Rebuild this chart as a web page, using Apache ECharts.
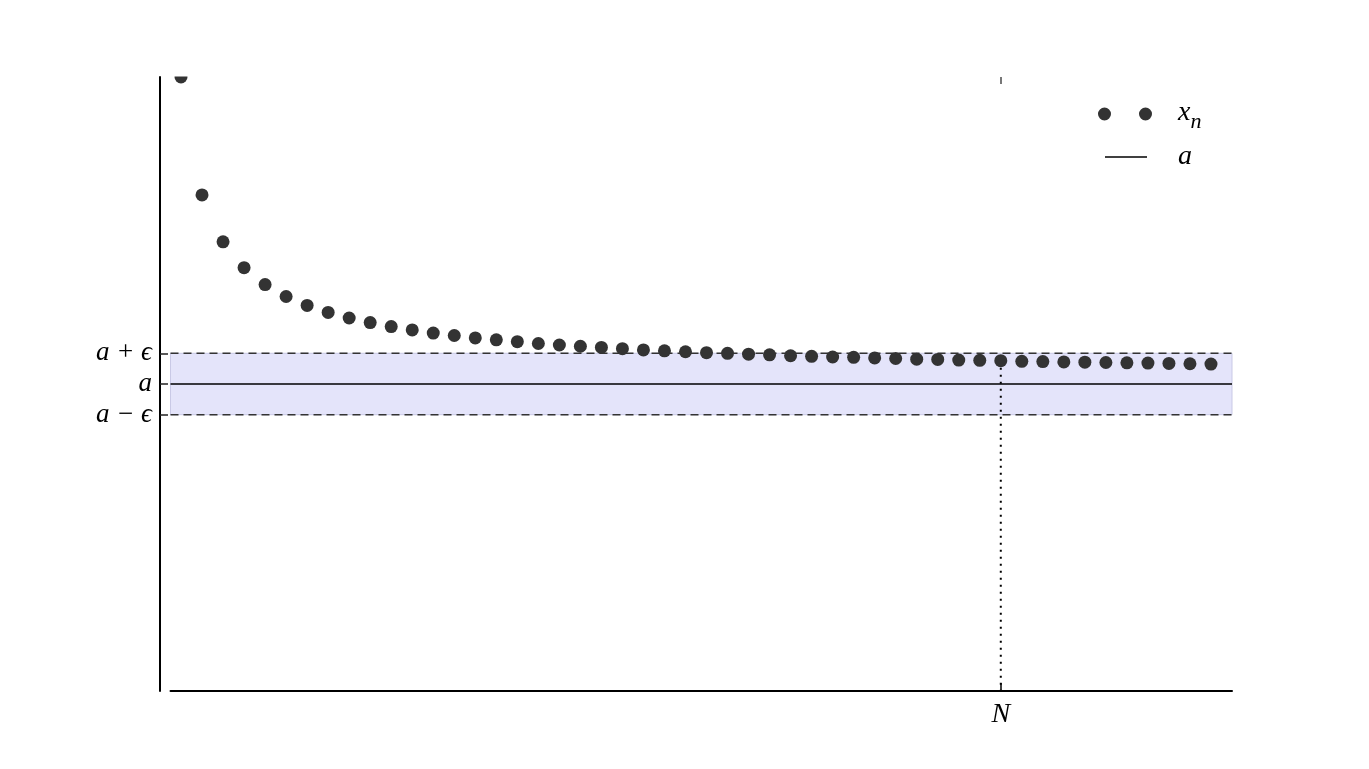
<!DOCTYPE html>
<html><head><meta charset="utf-8">
<script src="https://cdn.jsdelivr.net/npm/echarts@6/dist/echarts.min.js"></script>
<style>html,body{margin:0;padding:0;background:#fff}#c{width:1369px;height:769px}</style>
</head><body><div id="c"></div>
<script>
// ---- data ----
const nValues = [1,2,3,4,5,6,7,8,9,10,11,12,13,14,15,16,17,18,19,20,21,22,23,24,25,26,27,28,29,30,31,32,33,34,35,36,37,38,39,40,41,42,43,44,45,46,47,48,49,50];
const xnValues = [2.000,1.616,1.463,1.379,1.324,1.285,1.256,1.233,1.215,1.200,1.187,1.176,1.166,1.158,1.150,1.144,1.138,1.132,1.127,1.123,1.119,1.115,1.111,1.108,1.105,1.102,1.100,1.097,1.095,1.092,1.090,1.088,1.087,1.085,1.083,1.081,1.080,1.078,1.077,1.076,1.074,1.073,1.072,1.071,1.070,1.069,1.068,1.067,1.066,1.065];
const aValue = 1.0;
const epsValue = 0.1;
const nIndex = 40;
const xRange = [0.5, 51];
const yRange = [0, 2];
const yTickValues = [aValue - epsValue, aValue, aValue + epsValue];
const yTickLabels = ['a − ϵ', 'a', 'a + ϵ'];
const xTickValues = [nIndex];
const xTickLabels = ['N'];
const seriesNames = ['x_n', 'a'];

// ---- chart ----
const FONT = '"Liberation Serif","DejaVu Serif",serif';
const chart = echarts.init(document.getElementById('c'), null, {renderer: 'canvas'});
const scatterData = nValues.map((n, i) => [n, xnValues[i]]);
const xAtN = xnValues[nValues.indexOf(nIndex)];

const option = {
  animation: false,
  backgroundColor: '#fff',
  grid: {left: 170.5, right: 137, top: 77, bottom: 78, containLabel: false},
  xAxis: [{
    type: 'value', min: xRange[0], max: xRange[1], position: 'bottom',
    axisLine: {show: true, lineStyle: {color: '#000', width: 2}},
    axisTick: {show: true, inside: true, length: 8, customValues: xTickValues, lineStyle: {color: '#000', width: 1.5}},
    axisLabel: {show: true, customValues: xTickValues, margin: 10,
      formatter: v => xTickLabels[xTickValues.indexOf(v)] || '',
      fontFamily: FONT, fontStyle: 'italic', fontSize: 28, color: '#000'},
    splitLine: {show: false}
  }, {
    type: 'value', min: xRange[0], max: xRange[1], position: 'top',
    axisLine: {show: false},
    axisTick: {show: true, inside: true, length: 7, customValues: xTickValues, lineStyle: {color: '#777', width: 2}},
    axisLabel: {show: false},
    splitLine: {show: false}
  }],
  yAxis: {
    type: 'value', min: yRange[0], max: yRange[1], offset: 10.5,
    axisLine: {show: true, lineStyle: {color: '#000', width: 2}},
    axisTick: {show: true, inside: true, length: 8, customValues: yTickValues, lineStyle: {color: '#222', width: 1.5}},
    axisLabel: {show: true, customValues: yTickValues, margin: 8,
      formatter: v => { const i = yTickValues.findIndex(t => Math.abs(t - v) < 1e-9); return i >= 0 ? yTickLabels[i] : ''; },
      fontFamily: FONT, fontStyle: 'italic', fontSize: 27, color: '#000'},
    splitLine: {show: false}
  },
  legend: [{
    data: [seriesNames[0]], left: 1098, top: 99, padding: 0,
    itemWidth: 54, itemHeight: 13,
    icon: 'path://M0,6.5a6.5,6.5 0 1,0 13,0a6.5,6.5 0 1,0 -13,0M41,6.5a6.5,6.5 0 1,0 13,0a6.5,6.5 0 1,0 -13,0',
    formatter: () => '{x|x}{s|n}',
    textStyle: {padding: [0, 0, 0, 21], rich: {
      x: {fontFamily: FONT, fontStyle: 'italic', fontSize: 28, color: '#000', verticalAlign: 'top', lineHeight: 30},
      s: {fontFamily: FONT, fontStyle: 'italic', fontSize: 22, color: '#000', verticalAlign: 'top', lineHeight: 22, padding: [12, 0, 0, 0]}
    }}
  }, {
    data: [{name: seriesNames[1], itemStyle: {color: '#000'}}], left: 1105, top: 143, padding: 0,
    itemWidth: 42, itemHeight: 1.5,
    icon: 'path://M0,0H42V1.5H0Z',
    textStyle: {padding: [0, 0, 0, 26], fontFamily: FONT, fontStyle: 'italic', fontSize: 28, color: '#000'}
  }],
  graphic: [{
    type: 'rect', z: 100, silent: true,
    shape: {x: 165, y: 0, width: 40, height: 76.5},
    style: {fill: '#fff'}
  }],
  series: [{
    name: seriesNames[1], type: 'line', data: [[xRange[0], aValue], [xRange[1], aValue]],
    showSymbol: false, symbol: 'none', z: 3,
    itemStyle: {color: '#000'},
    lineStyle: {color: '#000', width: 1.3},
    markArea: {silent: true, z: 1,
      itemStyle: {color: '#e4e4fa', borderColor: '#c9c9e6', borderWidth: 1},
      data: [[{yAxis: aValue - epsValue}, {yAxis: aValue + epsValue}]]}
  }, {
    name: 'upper', type: 'line', data: [[xRange[0], aValue + epsValue], [xRange[1], aValue + epsValue]],
    showSymbol: false, symbol: 'none', z: 3,
    lineStyle: {color: '#333', width: 1.5, type: [8, 5]}
  }, {
    name: 'lower', type: 'line', data: [[xRange[0], aValue - epsValue], [xRange[1], aValue - epsValue]],
    showSymbol: false, symbol: 'none', z: 3,
    lineStyle: {color: '#333', width: 1.5, type: [8, 5]}
  }, {
    name: 'Nline', type: 'line', data: [[nIndex, xAtN], [nIndex, yRange[0]]],
    showSymbol: false, symbol: 'none', z: 3,
    lineStyle: {color: '#000', width: 2, type: [2, 5]}
  }, {
    name: seriesNames[0], type: 'scatter', data: scatterData, clip: true,
    symbol: 'circle', symbolSize: 13, z: 5,
    itemStyle: {color: '#333', opacity: 1}
  }]
};
chart.setOption(option);
</script>
</body></html>
